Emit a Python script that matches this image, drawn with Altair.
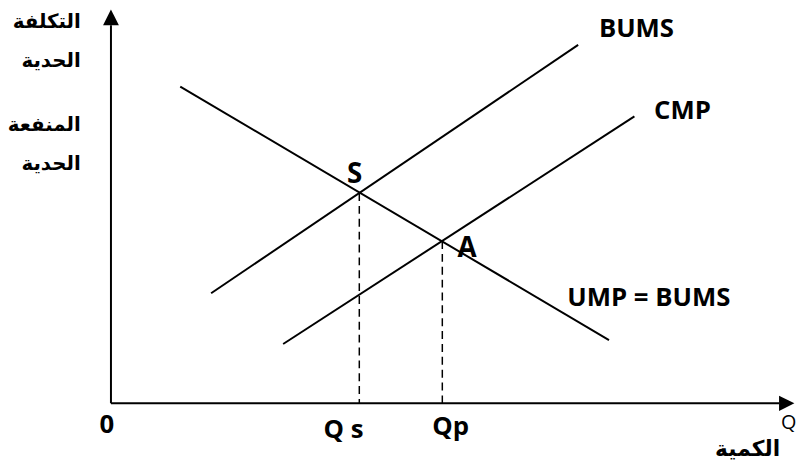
import altair as alt
import pandas as pd

# ---- data (quantity on x, cost / benefit on y, arbitrary units 0..100) ----
curve_names = ["UMP", "UMP", "BUMS", "BUMS", "CMP", "CMP"]
curve_x = [10.1, 72.6, 14.6, 68.1, 25.1, 76.3]
curve_y = [80.6, 16.1, 28.0, 91.2, 15.1, 73.0]

point_names = ["S", "A"]
point_x = [36.2, 48.3]
point_y = [53.5, 41.3]

axis_x_end = 97.4
axis_y_end = 96.2
arrow_x_pos = 98.5
arrow_y_pos = 98.2

curve_label_text = ["BUMS", "CMP", "UMP = BUMS"]
curve_label_x = [76.6, 83.3, 78.4]
curve_label_y = [95.2, 74.3, 26.7]

point_label_text = ["S", "A"]
point_label_x = [35.5, 51.9]
point_label_y = [58.2, 39.3]

tick_label_text = ["0", "Q s", "Qp"]
tick_label_x = [-0.6, 33.9, 49.5]
tick_label_y = [-5.5, -6.8, -6.0]

q_label_text = ["Q"]
q_label_x = [98.8]
q_label_y = [-5.0]

x_title_text = ["الكمية"]
x_title_x = [92.8]
x_title_y = [-11.6]

y_title_text = ["التكلفة", "الحدية", "المنفعة", "الحدية"]
y_title_x = [-4.4, -4.4, -4.4, -4.4]
y_title_y = [97.0, 87.2, 70.8, 60.8]

# ---- tables ----
curves = pd.DataFrame({"curve": curve_names, "x": curve_x, "y": curve_y})
points = pd.DataFrame({"name": point_names, "x": point_x, "y": point_y, "y0": [0, 0]})
axes = pd.DataFrame({"x": [0, 0], "y": [0, 0], "x2": [axis_x_end, 0], "y2": [0, axis_y_end]})
arrow_x = pd.DataFrame({"x": [arrow_x_pos], "y": [0]})
arrow_y = pd.DataFrame({"x": [0], "y": [arrow_y_pos]})
curve_labels = pd.DataFrame({"t": curve_label_text, "x": curve_label_x, "y": curve_label_y})
point_labels = pd.DataFrame({"t": point_label_text, "x": point_label_x, "y": point_label_y})
tick_labels = pd.DataFrame({"t": tick_label_text, "x": tick_label_x, "y": tick_label_y})
q_labels = pd.DataFrame({"t": q_label_text, "x": q_label_x, "y": q_label_y})
x_title = pd.DataFrame({"t": x_title_text, "x": x_title_x, "y": x_title_y})
y_title = pd.DataFrame({"t": y_title_text, "x": y_title_x, "y": y_title_y})

xs = alt.Scale(domain=[0, 100], nice=False, zero=False)
ys = alt.Scale(domain=[0, 100], nice=False, zero=False)
X = lambda: alt.X("x:Q", scale=xs, axis=None)
Y = lambda: alt.Y("y:Q", scale=ys, axis=None)

lines = alt.Chart(curves).mark_line(color="black", strokeWidth=2).encode(
    x=X(), y=Y(), detail="curve:N"
)
dashes = alt.Chart(points).mark_rule(color="black", strokeWidth=1.5, strokeDash=[8, 5]).encode(
    x=X(), y=Y(), y2="y0:Q"
)
axis_lines = alt.Chart(axes).mark_rule(color="black", strokeWidth=2).encode(
    x=X(), y=Y(), x2="x2:Q", y2="y2:Q"
)
arr_x = alt.Chart(arrow_x).mark_point(
    shape="M-1,-1L1,0L-1,1Z", filled=True, color="black", opacity=1, size=240
).encode(x=X(), y=Y())
arr_y = alt.Chart(arrow_y).mark_point(
    shape="M-1,1L0,-1L1,1Z", filled=True, color="black", opacity=1, size=256
).encode(x=X(), y=Y())

def txt(df, size, font="Open Sans", weight="bold", align="center"):
    return alt.Chart(df).mark_text(
        font=font, fontSize=size, fontWeight=weight, color="black",
        align=align, baseline="middle"
    ).encode(x=X(), y=Y(), text="t:N")

chart = alt.layer(
    axis_lines, arr_x, arr_y, lines, dashes,
    txt(curve_labels, 26),
    txt(point_labels, 28),
    txt(tick_labels, 26),
    txt(q_labels, 20, weight="normal"),
    txt(x_title, 22, font="DejaVu Sans"),
    txt(y_title, 20, font="DejaVu Sans", align="right"),
).properties(
    width=693, height=397,
    padding={"left": 104, "top": 0, "right": 0, "bottom": 66},
    autosize=alt.AutoSizeParams(type="none"),
).configure_view(stroke=None)

chart.save("out.html", embed_options={"renderer": "svg", "actions": False})
